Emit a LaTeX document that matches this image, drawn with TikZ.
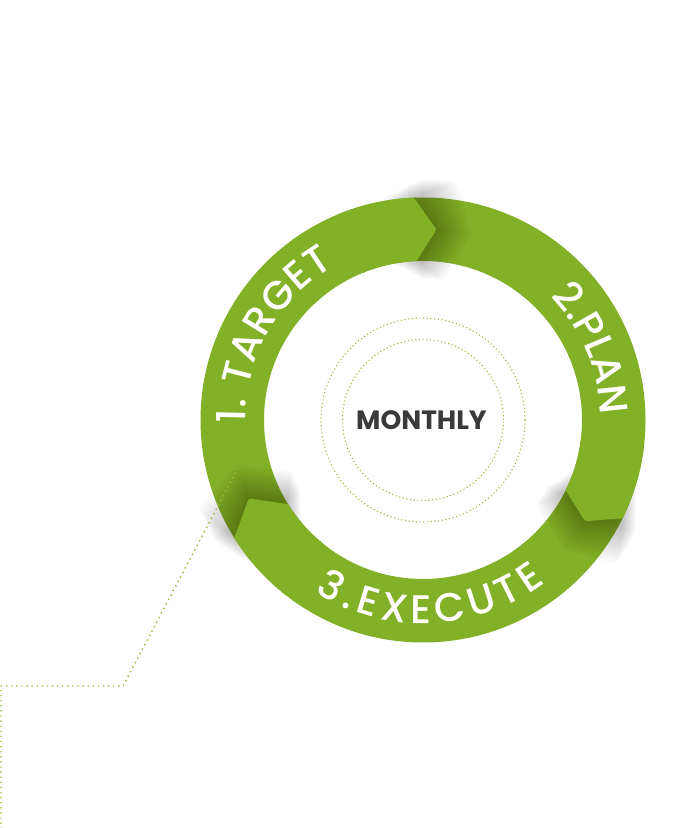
\documentclass[tikz,border=0pt]{standalone}
\usepackage{fontspec}
\setmainfont{Poppins}
\newfontfamily\ringfam{Poppins Medium}
\usetikzlibrary{decorations.text}
\usetikzlibrary{positioning}

\definecolor{ringgreen}{HTML}{82B026}
\definecolor{dotgreen}{HTML}{94BE3E}
\definecolor{darktext}{HTML}{3A3A3A}

\newcommand{\ro}{222.5}
\newcommand{\ri}{159}
\newcommand{\rmid}{191}
\newcommand{\ringfont}{\ringfam\fontsize{40}{40}\selectfont}
% shadow of a chevron end: back angle, tip angle, grow, shift ahead
\newcommand{\chevshade}[4]{(#1+9-#4:\ro+#3) arc[start angle=#1+9-#4, end angle=#1-#4, radius={(\ro+#3)*1pt}] -- (#2-#4:\rmid) -- (#1-#4:\ri-#3) arc[start angle=#1-#4, end angle=#1+9-#4, radius={(\ri-#3)*1pt}] -- cycle}
% the chevron end itself: back angle, tip angle
\newcommand{\chevtip}[2]{(#1+20:\ro) arc[start angle=#1+20, end angle=#1, radius=\ro pt] [rounded corners=2.5pt] -- (#2:\rmid) [sharp corners] -- (#1:\ri) arc[start angle=#1, end angle=#1+20, radius=\ri pt] -- cycle}

\begin{document}
\begin{tikzpicture}[x=1pt,y=1pt,
    ring part/.style={fill=ringgreen},
    shade layer/.style={fill=black,opacity=0.015},
    ring label/.style={decorate,decoration={text along path,text align={fit to path},text color=white}},
    hub label/.style={font=\fontsize{26.5}{26.5}\selectfont\bfseries,text=darktext,inner sep=0pt},
    leader/.style={draw=dotgreen,line width=1.4pt,dash pattern=on 1.4pt off 3.7pt},
    hub ring/.style={draw=dotgreen,line width=1.1pt,dash pattern=on 1.1pt off 2.6pt}]
  \fill[white] (0,0) rectangle (697,828);
  \useasboundingbox (0,0) rectangle (697,828);

  \coordinate (ring) at (423,408);

  % dotted rings round the hub
  \draw[hub ring] (ring) circle[radius=102pt];
  \draw[hub ring] (ring) circle[radius=80.5pt];
  \node[hub label] (monthly) at (421.5,408) {MONTHLY};

  \begin{scope}[shift={(ring)}]
    % the ring
    \fill[ring part,even odd rule] (0,0) circle[radius=\ro pt] (0,0) circle[radius=\ri pt];
    % 1 -> 2
    \foreach \k in {1,...,18}
      \path[shade layer] \chevshade{92.4}{85.9}{\k*1.0}{\k*0.6};
    \path[ring part] \chevtip{92.4}{85.9};
    % 2 -> 3
    \foreach \k in {1,...,18}
      \path[shade layer] \chevshade{-26.2}{-32}{\k*1.0}{\k*0.6};
    \path[ring part] \chevtip{-26.2}{-32};
    % 3 -> 1
    \foreach \k in {1,...,18}
      \path[shade layer] \chevshade{212}{204.2}{\k*1.0}{\k*0.6};
    \path[ring part] \chevtip{212}{204.2};

    % labels along the ring
    \path[ring label,decoration={text={|\ringfont|1. TARGET}}]
      (181:177.5) arc[start angle=181,end angle=120,radius=177.5pt];
    \path[ring label,decoration={text={|\ringfont|2.PLAN}}]
      (44:177.5) arc[start angle=44,end angle=1.5,radius=177.5pt];
    \path[ring label,decoration={text={|\ringfont|3.EXECUTE}}]
      (238:203.5) arc[start angle=238,end angle=307,radius=203.5pt];
  \end{scope}

  % leader line
  \coordinate (lineStart) at (238,360);
  \coordinate (bendA) at (123,142);
  \coordinate (bendB) at (1,142);
  \coordinate (lineEnd) at (1,0);
  \draw[leader] (lineStart) -- (bendA) -- (bendB) -- (lineEnd);
\end{tikzpicture}
\end{document}
